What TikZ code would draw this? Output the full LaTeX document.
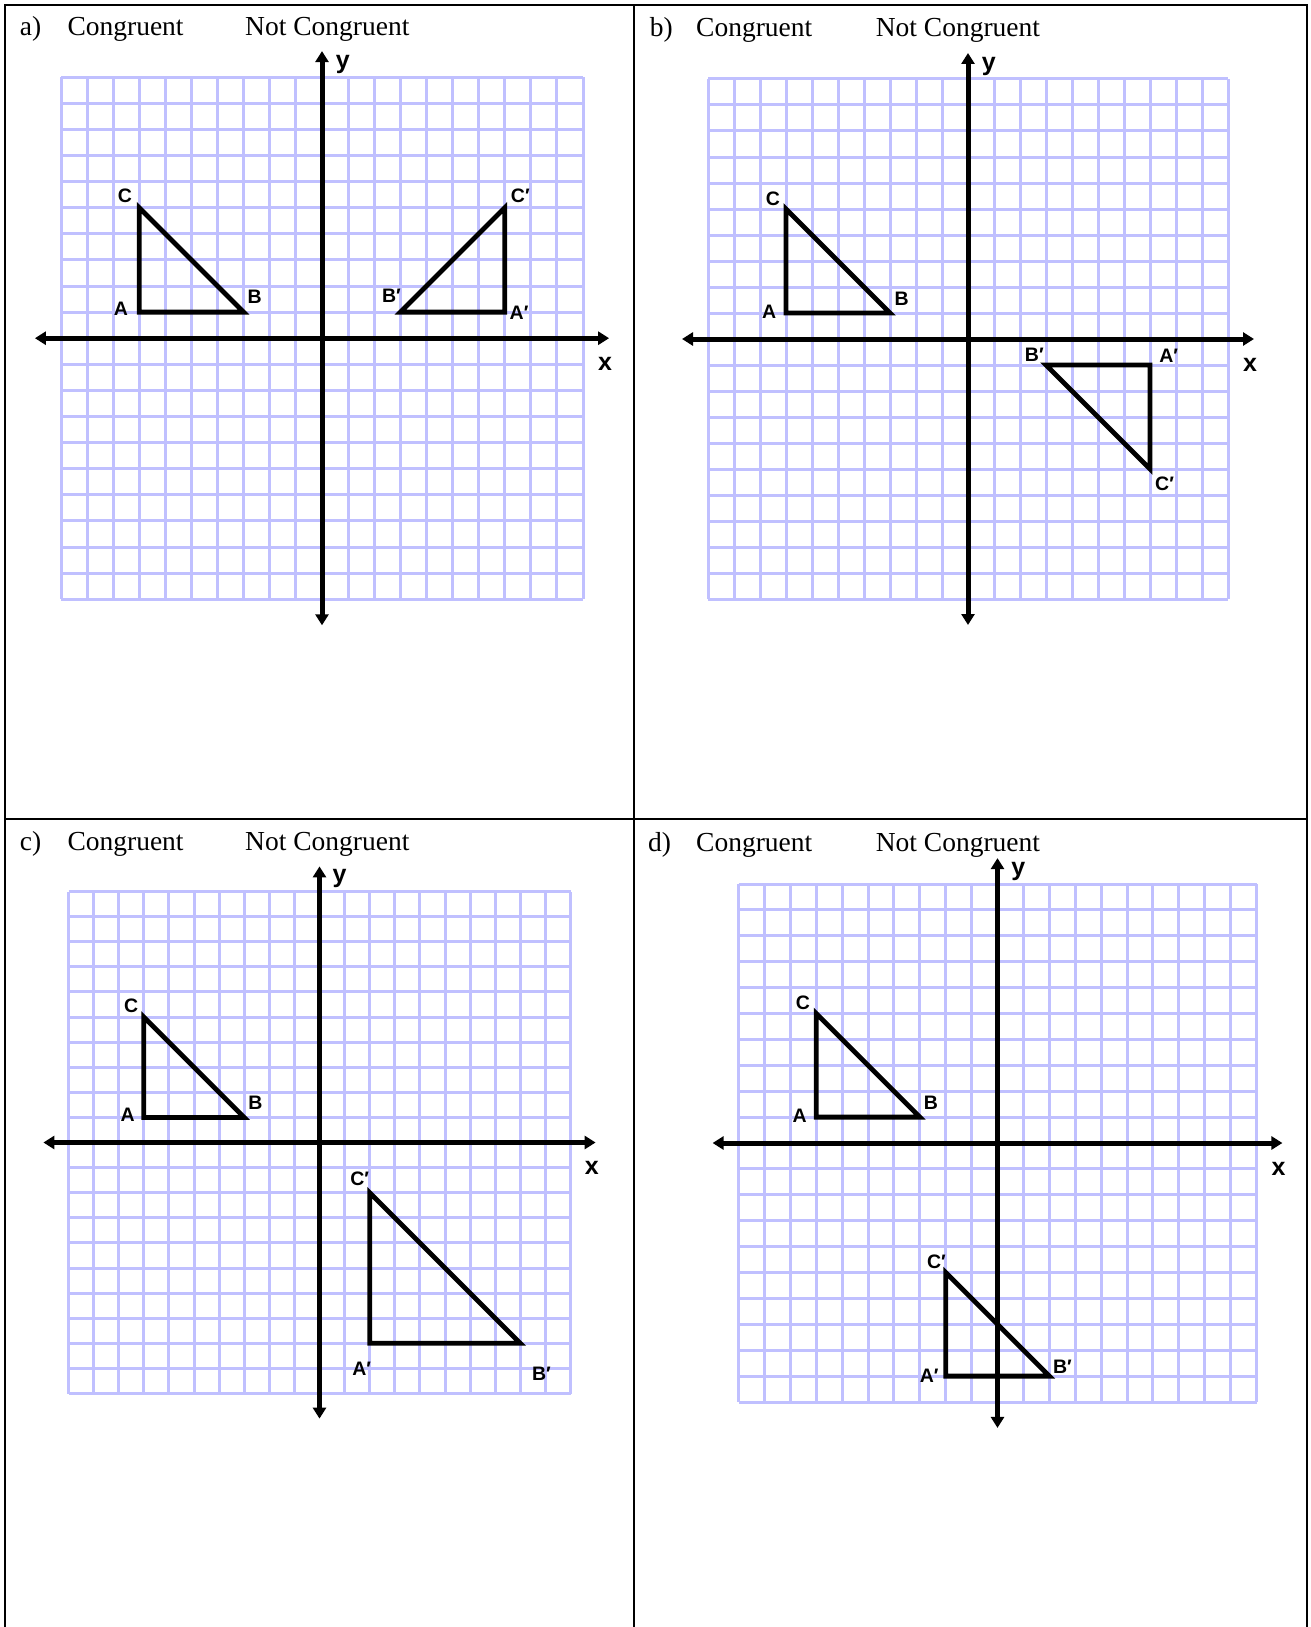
\documentclass[tikz,border=0pt]{standalone}
\usepackage{fontspec}
\usetikzlibrary{arrows.meta}
\newfontfamily\headfont{Liberation Serif}
\newfontfamily\lblfont{Liberation Sans}
\definecolor{gridblue}{RGB}{192,192,255}
\tikzset{
  gridline/.style={draw=gridblue, line width=3pt},
  axisline/.style={line width=5pt, {Triangle[length=11pt,width=13pt]}-{Triangle[length=11pt,width=13pt]}},
  tri/.style={line width=4.8pt, line join=miter},
  vlbl/.style={font=\lblfont\bfseries\fontsize{19.5}{21}\selectfont, inner sep=0pt},
  axlbl/.style={font=\lblfont\bfseries\fontsize{25}{26}\selectfont, inner sep=0pt},
  head/.style={font=\headfont\fontsize{27.5}{30}\selectfont, anchor=base west, inner sep=0pt},
  tablerule/.style={line width=2pt},
}
\newcommand{\gridaxes}[1]{%
  \foreach \i in {-10,...,10}{
    \draw[gridline] (\i,-10) -- (\i,10);
    \draw[gridline] (-10,\i) -- (10,\i);
  }
  \coordinate (#1xl) at (-11,0);
  \coordinate (#1xr) at (11,0);
  \coordinate (#1yb) at (0,-11);
  \coordinate (#1yt) at (0,11);
  \node[axlbl] (#1xlab) at (10.85,-1) {x};
  \node[axlbl] (#1ylab) at (0.8,10.5) {y};
}
\begin{document}
\begin{tikzpicture}[x=1pt,y=-1pt]
\useasboundingbox (0,0) rectangle (1310,1627);
\fill[white] (0,0) rectangle (1310,1627);

% table rules
\coordinate (tl) at (5,5);
\coordinate (tr) at (1306.7,5);
\coordinate (tm) at (634.3,5);
\coordinate (bl) at (5,1627);
\coordinate (br) at (1306.7,1627);
\coordinate (bm) at (634.3,1627);
\coordinate (ml) at (5,819);
\coordinate (mr) at (1306.7,819);
\draw[tablerule] (bl) -- (tl) -- (tr) -- (br);
\draw[tablerule] (tm) -- (bm);
\draw[tablerule] (ml) -- (mr);

% headings
\node[head] (ha) at (19.6,36) {a)};
\node[head] (ha1) at (67.3,36) {Congruent};
\node[head] (ha2) at (245,36) {Not Congruent};
\node[head] (hb) at (649.6,36.7) {b)};
\node[head] (hb1) at (696,36.7) {Congruent};
\node[head] (hb2) at (875.6,36.7) {Not Congruent};
\node[head] (hc) at (19.6,850) {c)};
\node[head] (hc1) at (67.3,850) {Congruent};
\node[head] (hc2) at (245,850) {Not Congruent};
\node[head] (hd) at (648,851) {d)};
\node[head] (hd1) at (696,851) {Congruent};
\node[head] (hd2) at (875.6,851) {Not Congruent};

% panel a
\begin{scope}[shift={(322,338.2)}, x=26.1pt, y=26.1pt]
  \gridaxes{a}
  \coordinate (aA) at (-7,1); \coordinate (aB) at (-3,1); \coordinate (aC) at (-7,5);
  \coordinate (aA2) at (7,1); \coordinate (aB2) at (3,1); \coordinate (aC2) at (7,5);
  \draw[tri] (aA) -- (aB) -- (aC) -- cycle;
  \draw[tri] (aA2) -- (aB2) -- (aC2) -- cycle;
  \draw[axisline] (axl) -- (axr);
  \draw[axisline] (ayb) -- (ayt);
  \node[vlbl] (aAl) at (-7.7,1.12) {A};
  \node[vlbl] (aBl) at (-2.58,1.58) {B};
  \node[vlbl] (aCl) at (-7.55,5.45) {C};
  \node[vlbl] (aA2l) at (7.55,0.96) {A′};
  \node[vlbl] (aB2l) at (2.66,1.62) {B′};
  \node[vlbl] (aC2l) at (7.6,5.45) {C′};
\end{scope}

% panel b
\begin{scope}[shift={(968,339)}, x=26pt, y=26pt]
  \gridaxes{b}
  \coordinate (bA) at (-7,1); \coordinate (bB) at (-3,1); \coordinate (bC) at (-7,5);
  \coordinate (bA2) at (7,-1); \coordinate (bB2) at (3,-1); \coordinate (bC2) at (7,-5);
  \draw[tri] (bA) -- (bB) -- (bC) -- cycle;
  \draw[tri] (bA2) -- (bB2) -- (bC2) -- cycle;
  \draw[axisline] (bxl) -- (bxr);
  \draw[axisline] (byb) -- (byt);
  \node[vlbl] (bAl) at (-7.65,1.06) {A};
  \node[vlbl] (bBl) at (-2.55,1.55) {B};
  \node[vlbl] (bCl) at (-7.5,5.4) {C};
  \node[vlbl] (bA2l) at (7.72,-0.65) {A′};
  \node[vlbl] (bB2l) at (2.55,-0.6) {B′};
  \node[vlbl] (bC2l) at (7.56,-5.58) {C′};
\end{scope}

% panel c
\begin{scope}[shift={(319.5,1142.5)}, x=25.1pt, y=25.1pt]
  \gridaxes{c}
  \coordinate (cA) at (-7,1); \coordinate (cB) at (-3,1); \coordinate (cC) at (-7,5);
  \coordinate (cA2) at (2,-8); \coordinate (cB2) at (8,-8); \coordinate (cC2) at (2,-2);
  \draw[tri] (cA) -- (cB) -- (cC) -- cycle;
  \draw[tri] (cA2) -- (cB2) -- (cC2) -- cycle;
  \draw[axisline] (cxl) -- (cxr);
  \draw[axisline] (cyb) -- (cyt);
  \node[vlbl] (cAl) at (-7.64,1.1) {A};
  \node[vlbl] (cBl) at (-2.55,1.57) {B};
  \node[vlbl] (cCl) at (-7.5,5.46) {C};
  \node[vlbl] (cA2l) at (1.68,-9.02) {A′};
  \node[vlbl] (cB2l) at (8.84,-9.2) {B′};
  \node[vlbl] (cC2l) at (1.6,-1.45) {C′};
\end{scope}

% panel d
\begin{scope}[shift={(997.5,1143)}, x=25.9pt, y=25.9pt]
  \gridaxes{d}
  \coordinate (dA) at (-7,1); \coordinate (dB) at (-3,1); \coordinate (dC) at (-7,5);
  \coordinate (dA2) at (-2,-9); \coordinate (dB2) at (2,-9); \coordinate (dC2) at (-2,-5);
  \draw[tri] (dA) -- (dB) -- (dC) -- cycle;
  \draw[tri] (dA2) -- (dB2) -- (dC2) -- cycle;
  \draw[axisline] (dxl) -- (dxr);
  \draw[axisline] (dyb) -- (dyt);
  \node[vlbl] (dAl) at (-7.64,1.07) {A};
  \node[vlbl] (dBl) at (-2.57,1.54) {B};
  \node[vlbl] (dCl) at (-7.51,5.4) {C};
  \node[vlbl] (dA2l) at (-2.64,-8.97) {A′};
  \node[vlbl] (dB2l) at (2.51,-8.65) {B′};
  \node[vlbl] (dC2l) at (-2.36,-4.6) {C′};
\end{scope}
\end{tikzpicture}
\end{document}
